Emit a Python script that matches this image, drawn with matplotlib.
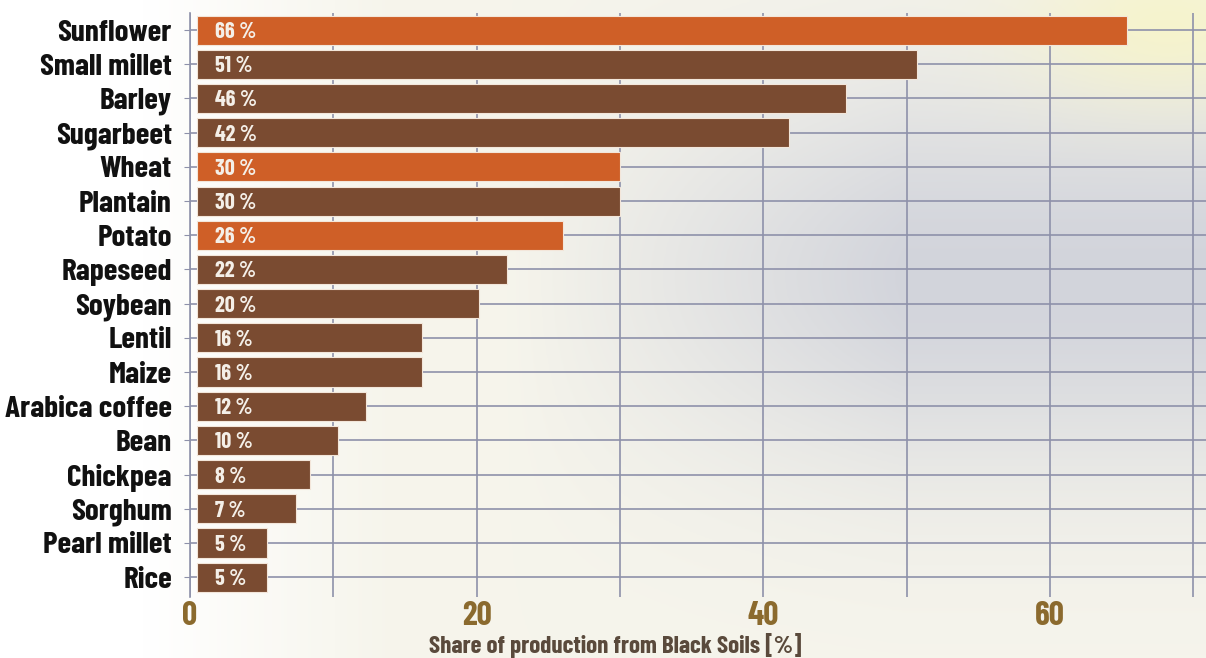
import numpy as np
import matplotlib
matplotlib.use("Agg")
import matplotlib.pyplot as plt
from matplotlib import font_manager
from matplotlib.ticker import MultipleLocator

# crops, top to bottom
crops = ["Sunflower", "Small millet", "Barley", "Sugarbeet", "Wheat", "Plantain",
         "Potato", "Rapeseed", "Soybean", "Lentil", "Maize", "Arabica coffee",
         "Bean", "Chickpea", "Sorghum", "Pearl millet", "Rice"]
# where each bar ends on the axis
bar_ends = [65.4, 50.7, 45.8, 41.8, 30.0, 30.0, 26.0, 22.1, 20.2, 16.2, 16.2,
            12.3, 10.3, 8.4, 7.4, 5.4, 5.4]
# printed labels
share_labels = ["66 %", "51 %", "46 %", "42 %", "30 %", "30 %", "26 %", "22 %",
                "20 %", "16 %", "16 %", "12 %", "10 %", "8 %", "7 %", "5 %", "5 %"]
highlight = ["Sunflower", "Wheat", "Potato"]

ORANGE = "#cf5f27"
BROWN = "#7a4b31"
GRID = "#8e91aa"

# condensed face if present, otherwise shrink DejaVu
installed = {f.name for f in font_manager.fontManager.ttflist}
if "Barlow Condensed" in installed:
    FONT = ["Barlow Condensed", "DejaVu Sans"]
    scale = 1.0
else:
    FONT = ["DejaVu Sans"]
    scale = 0.65

fig = plt.figure(figsize=(12.06, 6.58), dpi=100)

# soft photo-like background
bg = fig.add_axes([0, 0, 1, 1], zorder=0)
bg.axis("off")
X, Y = np.meshgrid(np.linspace(0, 1, 400), np.linspace(0, 1, 220))
white = np.array([1.0, 1.0, 1.0])
cream = np.array([0.965, 0.96, 0.925])
gray = np.array([0.80, 0.81, 0.85])
yellow = np.array([0.97, 0.96, 0.78])
w_cream = np.clip((X - 0.12) / 0.2, 0, 1)[..., None]
img = white * (1 - w_cream) + cream * w_cream
w_gray = (np.clip((X - 0.42) / 0.33, 0, 1) * np.exp(-((Y - 0.42) / 0.3) ** 2))[..., None]
img = img * (1 - 0.85 * w_gray) + gray * 0.85 * w_gray
w_yel = np.exp(-((X - 0.97) / 0.12) ** 2 - ((Y - 0.04) / 0.12) ** 2)[..., None]
img = img * (1 - 0.8 * w_yel) + yellow * 0.8 * w_yel
bg.imshow(img, aspect="auto", extent=[0, 1, 1, 0])
bg.set_xlim(0, 1)
bg.set_ylim(1, 0)

ax = fig.add_axes([190 / 1206, 1 - 597 / 658, 1 - 190 / 1206, (597 - 13) / 658], zorder=1)
ax.set_facecolor("none")

y = np.arange(len(crops))
colors = [ORANGE if c in highlight else BROWN for c in crops]
left = 0.5
ax.barh(y, np.array(bar_ends) - left, left=left, height=0.85, color=colors,
        edgecolor="#f3e6da", linewidth=0.8, zorder=3)

for yi, lab in zip(y, share_labels):
    ax.text(1.75, yi, lab, color="#f4efe8", fontsize=16 * scale, fontweight="bold",
            family=FONT, ha="left", va="center_baseline", zorder=4)

ax.set_xlim(0, 70.9)
ax.set_ylim(len(crops) - 0.42, -0.5)
ax.set_yticks(y)
ax.set_yticklabels(crops, fontsize=22.5 * scale, fontweight="bold", family=FONT,
                   color="#111111")
ax.xaxis.set_major_locator(MultipleLocator(20))
ax.xaxis.set_minor_locator(MultipleLocator(10))
for lab in ax.get_xticklabels():
    lab.set_family(FONT)
    lab.set_fontweight("bold")
ax.tick_params(axis="x", which="both", length=0, labelsize=24 * scale,
               labelcolor="#8b6a2e", pad=3)
ax.tick_params(axis="y", length=4, color=GRID, pad=9)

ax.grid(True, axis="x", which="both", color=GRID, linewidth=1.2, zorder=1)
ax.grid(True, axis="y", color=GRID, linewidth=1.2, zorder=1)
ax.set_axisbelow(True)
for s in ["top", "right", "bottom"]:
    ax.spines[s].set_visible(False)
ax.spines["left"].set_color(GRID)
ax.spines["left"].set_linewidth(1.2)

fig.text(615 / 1206, 1 - 646 / 658, "Share of production from Black Soils [%]",
         ha="center", va="center", fontsize=18 * scale, fontweight="bold", family=FONT,
         color="#5a4a3c")

fig.savefig("out.png", dpi=100)
